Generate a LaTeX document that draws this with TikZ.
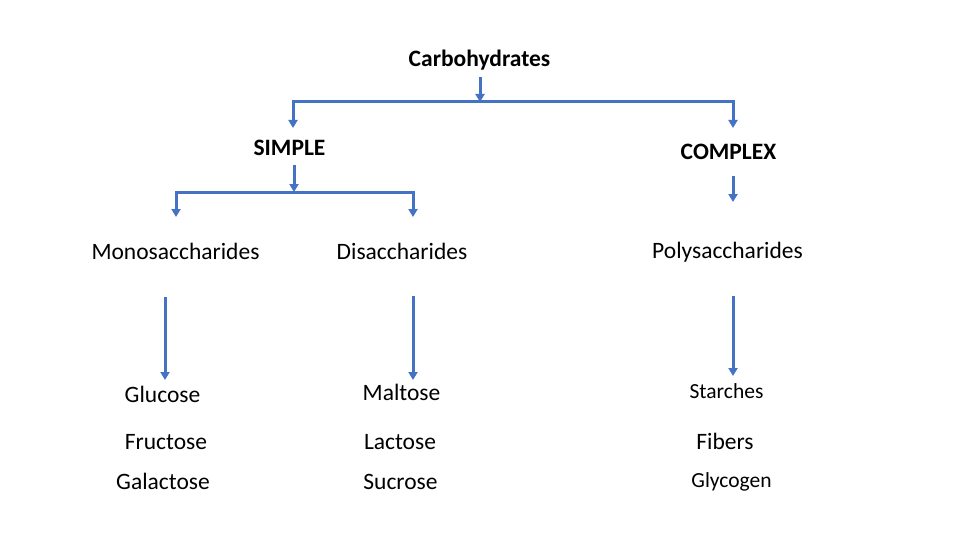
\documentclass[tikz,border=0pt]{standalone}
\usepackage{fontspec}
\setmainfont{Carlito}
\usetikzlibrary{arrows.meta}
\definecolor{linkblue}{HTML}{4472C4}
\tikzset{
  link/.style={linkblue, line width=3pt},
  arr/.style={link, -{Triangle[width=9pt,length=8pt]}},
  head/.style={font=\fontsize{23.5}{28}\selectfont\bfseries, anchor=base, inner sep=0pt},
  item/.style={font=\fontsize{23.5}{28}\selectfont, anchor=base, inner sep=0pt},
  itemsmall/.style={font=\fontsize{21.5}{26}\selectfont, anchor=base, inner sep=0pt}
}
\begin{document}
\begin{tikzpicture}[x=1pt,y=-1pt]
        \useasboundingbox (0,0) rectangle (960,540);
        % headings
        \node[head] (carb) at (479.5,67) {Carbohydrates};
        \node[head] (simple) at (289.5,156) {SIMPLE};
        \node[head] (complex) at (728.5,160) {COMPLEX};
        \node[item] (mono) at (175.5,259) {Monosaccharides};
        \node[item] (di) at (402,259) {Disaccharides};
        \node[item] (poly) at (727.5,258) {Polysaccharides};
        % examples
        \node[item] (glu) at (162.5,402) {Glucose};
        \node[item] (fru) at (166,449) {Fructose};
        \node[item] (gal) at (163,489) {Galactose};
        \node[item] (mal) at (401.5,400) {Maltose};
        \node[item] (lac) at (400,449) {Lactose};
        \node[item] (suc) at (400.5,489) {Sucrose};
        \node[itemsmall] (sta) at (726.5,398) {Starches};
        \node[item] (fib) at (725,449) {Fibers};
        \node[itemsmall] (gly) at (731.5,487) {Glycogen};
        % brackets
        \coordinate (ctop) at (480,102);
        \coordinate (csimple) at (293,128);
        \coordinate (ccomplex) at (733,128);
        \draw[arr] (480,77) -- (ctop);
        \draw[arr] (ctop) -| (csimple);
        \draw[arr] (ctop) -| (ccomplex);
        \coordinate (stop) at (294,192);
        \coordinate (smono) at (176,217);
        \coordinate (sdi) at (413,217);
        \draw[arr] (294,165) -- (stop);
        \draw[arr] (stop) -| (smono);
        \draw[arr] (stop) -| (sdi);
        \draw[arr] (733,176) -- (733,202);
        % down arrows
        \draw[arr] (165,297) -- (165,380);
        \draw[arr] (413,296) -- (413,380);
        \draw[arr] (733,296) -- (733,376);
\end{tikzpicture}
\end{document}
